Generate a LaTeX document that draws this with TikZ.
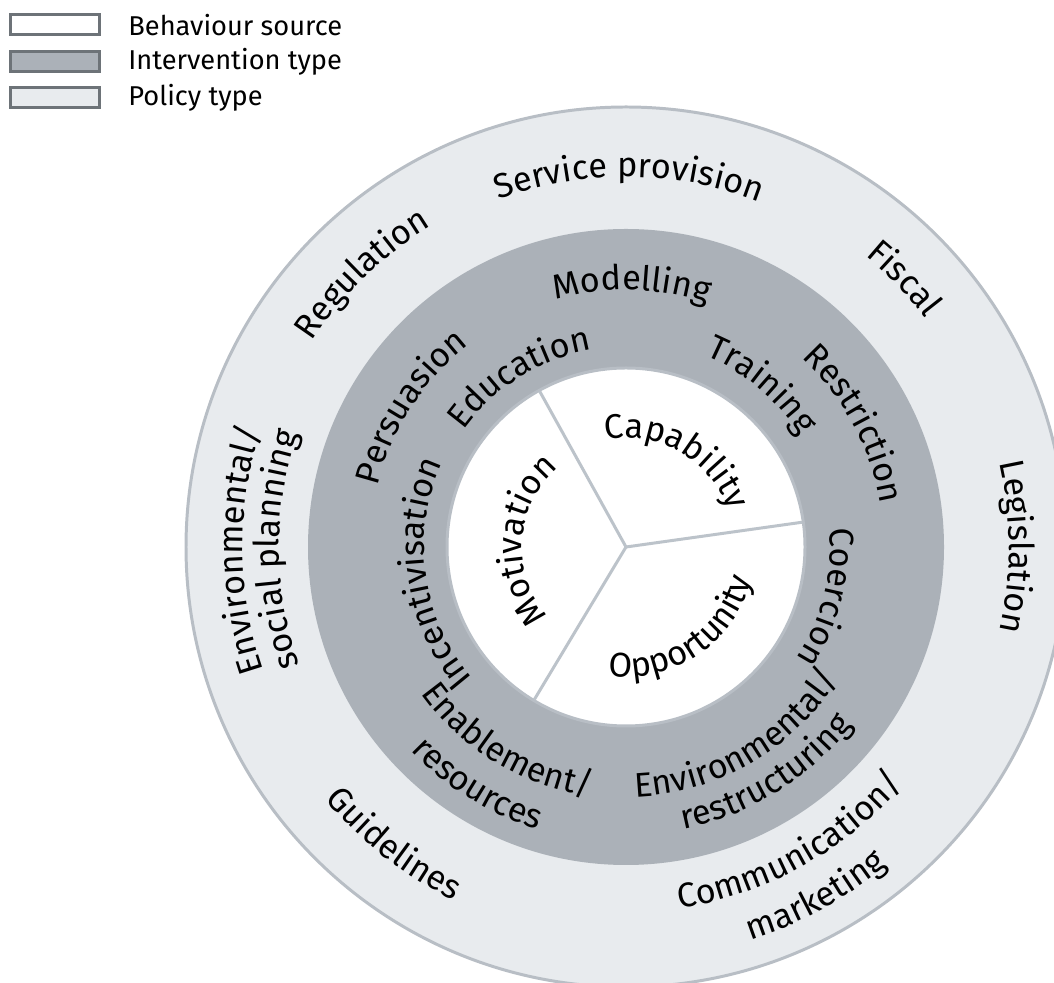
\documentclass[tikz,border=0pt]{standalone}
\usepackage{fontspec}
\setmainfont{Fira Sans}
\usepackage{xcolor}
\usetikzlibrary{decorations.text}

\definecolor{policygray}{HTML}{E8EBEE}
\definecolor{interventiongray}{HTML}{ABB1B8}
\definecolor{ringline}{HTML}{B8BEC5}
\definecolor{spokegray}{HTML}{BCC3CA}
\definecolor{legendline}{HTML}{6D7378}

\newcommand{\wheelfont}{\fontsize{19.5}{23}\selectfont}
% text on an arc round the hub, tops outwards (clockwise)
\newcommand{\arcout}[3]{%
  \path [decorate, decoration={text along path, text align=center, text={|\wheelfont|#3}}]
    (hub) ++(#1+90:#2) arc [start angle=#1+90, end angle=#1-90, radius=#2];}
% text on an arc round the hub, tops inwards (anticlockwise)
\newcommand{\arcin}[3]{%
  \path [decorate, decoration={text along path, text align=center, text={|\wheelfont|#3}}]
    (hub) ++(#1-90:#2) arc [start angle=#1-90, end angle=#1+90, radius=#2];}

\begin{document}
\begin{tikzpicture}[
    x=0.02cm, y=0.02cm,
    legendbox/.style={
        rectangle,
        draw=legendline,
        line width=1.7pt,
        minimum width=1.8cm,
        minimum height=0.4cm,
        inner sep=0pt
    },
    legendtext/.style={
        anchor=west,
        inner sep=0pt,
        font=\fontsize{15.5}{18}\selectfont
    },
    spoke/.style={draw=spokegray, line width=1.7pt}
]
    \useasboundingbox (0,0) rectangle (1054,983);
    \coordinate (hub) at (626,436);

    % =========================================================
    % LEGEND
    % =========================================================
    \node [legendbox, fill=white] (srcbox) at (55,958) {};
    \node [legendbox, fill=interventiongray] (intbox) at (55,921) {};
    \node [legendbox, fill=policygray] (polbox) at (55,885) {};
    \node [legendtext] (srctext) at (128,958) {Behaviour source};
    \node [legendtext] (inttext) at (128,921) {Intervention type};
    \node [legendtext] (poltext) at (128,885) {Policy type};

    % =========================================================
    % RINGS AND SPOKES
    % =========================================================
    \begin{scope}
        \clip (0,0) rectangle (1054,983);
        \filldraw [fill=policygray, draw=ringline, line width=1.7pt] (hub) circle [radius=440];
    \end{scope}
    \fill [interventiongray] (hub) circle [radius=318];
    \filldraw [fill=white, draw=ringline, line width=1.7pt] (hub) circle [radius=179];

    \path (hub) ++(8:178) coordinate (spokeA);
    \path (hub) ++(119:178) coordinate (spokeB);
    \path (hub) ++(239:178) coordinate (spokeC);
    \draw [spoke] (hub) -- (spokeA);
    \draw [spoke] (hub) -- (spokeB);
    \draw [spoke] (hub) -- (spokeC);

    % =========================================================
    % BEHAVIOUR SOURCES
    % =========================================================
    \arcout{60}{109}{Capability}
    \arcout{176}{104}{Motivation}
    \arcin{-56}{130}{Opportunity}

    % =========================================================
    % INTERVENTION TYPES
    % =========================================================
    \arcout{88.7}{257}{Modelling}
    \arcout{122}{200}{Education}
    \arcout{147}{256}{Persuasion}
    \arcout{50}{207}{Training}
    \arcout{28.3}{258}{Restriction}
    \arcout{188}{202}{Incentivisation}
    \arcout{-14}{204}{Coercion}
    \arcin{238.7}{252}{Enablement/}
    \arcin{238}{296}{resources}
    \arcin{-59.7}{250}{Environmental/}
    \arcin{-58.4}{288}{restructuring}

    % =========================================================
    % POLICY TYPES
    % =========================================================
    \arcout{89.5}{370}{Service provision}
    \arcout{134}{375}{Regulation}
    \arcout{44}{377}{Fiscal}
    \arcout{0}{383}{Legislation}
    \arcout{180.5}{383}{Environmental/}
    \arcout{180.5}{347}{social planning}
    \arcin{232}{393}{Guidelines}
    \arcin{-61}{365}{Communication/}
    \arcin{-61.5}{412}{marketing}

\end{tikzpicture}
\end{document}
